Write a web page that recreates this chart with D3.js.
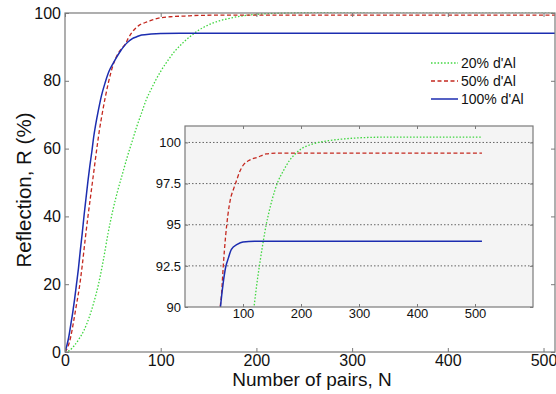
<!DOCTYPE html>
<html><head><meta charset="utf-8">
<script src="https://cdn.jsdelivr.net/npm/d3@7"></script>
<style>
html,body{margin:0;padding:0;background:#fff;}
svg{display:block;font-family:"Liberation Sans",Arial,sans-serif;}
</style></head>
<body>
<svg id="chart" width="556" height="394"></svg>
<script>
// ---- data ----
const seriesNames = ["20% d'Al", "50% d'Al", "100% d'Al"];
const greenN = [0,5,10,15,20,25,30,35,40,45,50,55,60,65,70,75,80,85,90,95,100,105,110,115,120,125,130,135,140,145,150,155,160,170,180,190,200,215,230,250,275,300,340,512];
const greenR = [0,0.5,2,4,6.5,10,14.5,20,27,35,41.8,47.5,52.5,57.5,62,66.5,70.5,74.5,77.5,80.3,82.8,85,87,88.8,90.3,91.7,92.9,94,95,95.8,96.5,97.1,97.6,98.3,98.9,99.3,99.6,99.85,100.0,100.12,100.22,100.28,100.32,100.32];
const redN = [0,3,6,9,12,15,18,21,24,27,30,33,36,39,42,45,48,52,56,60,63,66,70,74,78,84,88,94,100,110,125,140,160,512];
const redR = [0,1.5,4.5,9,14,19,25.5,33,40,46.5,53,59.5,65.5,70.5,75,79,82.5,86,88.3,89.8,90.8,92.5,94.3,95.6,96.5,97.2,97.6,98.2,98.6,98.9,99.1,99.3,99.35,99.35];
const blueN = [0,2,4,6,8,10,12,14,16,18,20,22,24,26,28,30,32,35,38,42,46,50,54,58,62,66,70,75,80,90,100,120,512];
const blueR = [0,2,4.5,8,11.5,15.5,20,24.5,30,35,40.5,45.5,50.5,55,59,63.5,67,71.5,75.5,79.5,82.8,85,87,88.8,90.3,91.5,92.4,93.0,93.5,93.8,93.95,94.0,94.0];
const mainXTicks = [0,100,200,300,400,500];
const mainYTicks = [0,20,40,60,80,100];
const insetXTicks = [100,200,300,400,500];
const insetYTicks = [90,92.5,95,97.5,100];
const insetYTickLabels = ["90","92.5","95","97.5","100"];

const series = [
  {name: seriesNames[0], N: greenN, R: greenR, color: "#3fd63f", dash: "1.5,1.8", width: 1.3},
  {name: seriesNames[1], N: redN,   R: redR,   color: "#c4281f", dash: "4,2.5", width: 1.3},
  {name: seriesNames[2], N: blueN,  R: blueR,  color: "#1c2db0", dash: null, width: 1.5}
];

const svg = d3.select("#chart");
const axisColor = "#7a7a7a";

// ---- main axes ----
const M = {left: 65, right: 555, top: 13, bottom: 352};
const x = d3.scaleLinear().domain([0, 512]).range([M.left, M.right]);
const y = d3.scaleLinear().domain([0, 100]).range([M.bottom, M.top]);

svg.append("clipPath").attr("id","clipMain").append("rect")
  .attr("x", M.left).attr("y", M.top - 0.8).attr("width", M.right - M.left).attr("height", M.bottom - M.top + 0.8);

function drawAxes(g, xs, ys, xt, yt, ytl, fs, tickLen, xLabOff) {
  const [x0, x1] = xs.range(); const [y0, y1] = ys.range();
  const gx = g.append("g").attr("transform", `translate(0,${y0})`)
    .call(d3.axisBottom(xs).tickValues(xt).tickSize(-tickLen).tickPadding(xLabOff).tickFormat(d3.format("d")));
  const gxt = g.append("g").attr("transform", `translate(0,${y1})`)
    .call(d3.axisTop(xs).tickValues(xt).tickSize(-tickLen).tickFormat(""));
  const gy = g.append("g").attr("transform", `translate(${x0},0)`)
    .call(d3.axisLeft(ys).tickValues(yt).tickSize(-tickLen).tickPadding(4).tickFormat((d,i)=> ytl ? ytl[i] : d));
  const gyr = g.append("g").attr("transform", `translate(${x1},0)`)
    .call(d3.axisRight(ys).tickValues(yt).tickSize(-tickLen).tickFormat(""));
  [gx,gxt,gy,gyr].forEach(a => {
    a.select(".domain").remove();
    a.selectAll("line").attr("stroke", axisColor);
    a.selectAll("text").attr("fill", "#111").style("font-size", fs + "px").style("font-family", '"Liberation Sans",Arial,sans-serif');
  });
  g.append("rect").attr("x", x0).attr("y", y1).attr("width", x1 - x0).attr("height", y0 - y1)
    .attr("fill", "none").attr("stroke", axisColor).attr("stroke-width", 1.2);
}

const lineGen = (xs, ys) => d3.line().x(d => xs(d[0])).y(d => ys(d[1])).curve(d3.curveMonotoneX);

const gMain = svg.append("g");
const gMainLines = gMain.append("g").attr("clip-path", "url(#clipMain)");
series.forEach(s => {
  gMainLines.append("path").datum(s.N.map((n,i)=>[n, s.R[i]]))
    .attr("d", lineGen(x, y)).attr("fill","none").attr("stroke", s.color)
    .attr("stroke-width", s.width).attr("stroke-dasharray", s.dash);
});
drawAxes(gMain, x, y, mainXTicks, mainYTicks, null, 16, 4, 3);

// axis titles
svg.append("text").attr("x", 312).attr("y", 386).attr("text-anchor","middle")
  .style("font-size","19px").attr("fill","#111").text("Number of pairs, N");
svg.append("text").attr("transform","translate(31,190) rotate(-90)").attr("text-anchor","middle")
  .style("font-size","20.5px").attr("fill","#111").text("Reflection, R (%)");

// legend
const lg = svg.append("g");
series.forEach((s,i) => {
  const yy = 63 + i*18;
  lg.append("line").attr("x1",431).attr("x2",458).attr("y1",yy).attr("y2",yy)
    .attr("stroke", s.color).attr("stroke-width", s.width).attr("stroke-dasharray", s.dash);
  lg.append("text").attr("x", 461).attr("y", yy).attr("dy","0.35em")
    .style("font-size","14px").attr("fill","#111").text(s.name);
});

// ---- inset ----
const I = {left: 185, right: 533, top: 126, bottom: 307};
const xi = d3.scaleLinear().domain([0, 600]).range([I.left, I.right]);
const yi = d3.scaleLinear().domain([90, 101]).range([I.bottom, I.top]);
const gIn = svg.append("g");
gIn.append("rect").attr("x", I.left).attr("y", I.top).attr("width", I.right-I.left).attr("height", I.bottom-I.top)
  .attr("fill", "#f4f4f4");
svg.append("clipPath").attr("id","clipIn").append("rect")
  .attr("x", I.left).attr("y", I.top).attr("width", I.right-I.left).attr("height", I.bottom-I.top);
gIn.append("g").selectAll("line").data(insetYTicks.filter(v => v > 90)).join("line")
  .attr("x1", I.left).attr("x2", I.right).attr("y1", d=>yi(d)).attr("y2", d=>yi(d))
  .attr("stroke", "#555").attr("stroke-width", 0.9).attr("stroke-dasharray", "1.5,2");
const gInLines = gIn.append("g").attr("clip-path","url(#clipIn)");
series.forEach(s => {
  gInLines.append("path").datum(s.N.map((n,i)=>[n, s.R[i]]))
    .attr("d", lineGen(xi, yi)).attr("fill","none").attr("stroke", s.color)
    .attr("stroke-width", s.width).attr("stroke-dasharray", s.dash);
});
drawAxes(gIn, xi, yi, insetXTicks, insetYTicks, insetYTickLabels, 13, 3, 2);
</script>
</body></html>
